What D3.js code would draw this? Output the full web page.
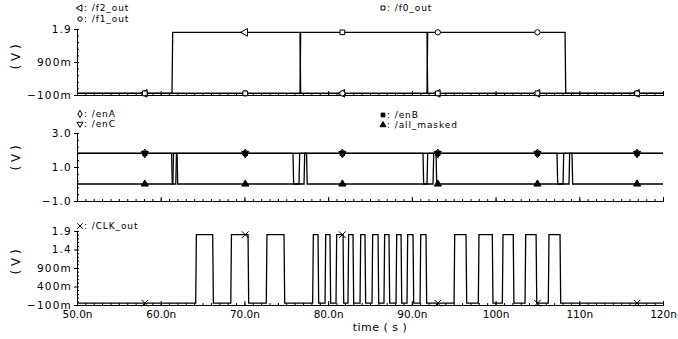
<!DOCTYPE html>
<html>
<head>
<meta charset="utf-8">
<script src="https://cdn.jsdelivr.net/npm/d3@7"></script>
<style>
  body { margin: 0; background: #fff; }
  svg { display: block; }
  text { font-family: 'DejaVu Sans', sans-serif; fill: #000; }
</style>
</head>
<body>
<div id="chart"></div>
<script>
// time axis (ns)
const timeRange = [50, 120];
const timeTicks = [50, 60, 70, 80, 90, 100, 110, 120];
const timeTickLabels = ['50.0n', '60.0n', '70.0n', '80.0n', '90.0n', '100n', '110n', '120n'];
const markerTimes = [58.1, 70.1, 81.7, 93.1, 105.0, 116.9];

// top panel: intervals where each output is high
const f2High = [[61.35, 76.64]];
const f0High = [[76.64, 91.81]];
const f1High = [[91.81, 108.3]];
const fLevels = [-0.05, 1.8];
const fTicks = [-0.1, 0.9, 1.9];
const fTickLabels = ['\u2212100m', '900m', '1.9'];

// middle panel: enables sit high and dip briefly, all_masked sits low and pulses
const enALow = [[75.8, 76.52]];
const enBLow = [[91.33, 91.81]];
const enCLow = [[61.3, 61.8], [107.34, 108.06]];
const allMaskedHigh = [[61.45, 61.95], [77.12, 77.42], [92.53, 92.89], [108.77, 109.13]];
const enLevels = [0, 1.8];
const enTicks = [-1, 1, 3];
const enTickLabels = ['\u22121.0', '1.0', '3.0'];

// bottom panel: clock pulses
const clkHigh = [
  [64.18, 66.21], [68.37, 70.43], [72.61, 74.73],
  [78.15, 78.79], [79.63, 80.22], [80.94, 81.78], [82.37, 82.97], [83.81, 84.4],
  [85.24, 85.96], [86.67, 87.27], [88.11, 88.71], [89.42, 90.14], [90.98, 91.69],
  [95.04, 96.47], [97.94, 99.61], [100.81, 102.11], [103.52, 104.84], [106.3, 107.7]
];
const clkLevels = [-0.05, 1.8];
const clkTicks = [-0.1, 0.4, 0.9, 1.4, 1.9];
const clkTickLabels = ['\u2212100m', '400m', '900m', '1.4', '1.9'];

const W = 678, H = 339;
const edge = 0.08; // transition time, ns

const svg = d3.select('#chart').append('svg').attr('width', W).attr('height', H);

const x = d3.scaleLinear().domain(timeRange).range([77, 663]);

const inside = (intervals, t) => intervals.some(([a, b]) => t >= a && t <= b + edge);

// build step waveform: base level, switched to `level` inside intervals
const wave = (intervals, base, level) => {
  const pts = [[timeRange[0], base]];
  intervals.forEach(([a, b]) => {
    pts.push([a, base], [a + edge, level], [b, level], [b + edge, base]);
  });
  pts.push([timeRange[1], base]);
  return pts;
};

const symbolPath = (type, size) => d3.symbol().type(type).size(size)();

const drawAxes = p => {
  const g = svg.append('g');
  // x minor + major ticks
  g.append('g')
    .attr('transform', `translate(0,${p.y.range()[0]})`)
    .call(d3.axisBottom(x).tickValues(d3.range(50, 121, 1)).tickSize(-2).tickSizeOuter(0).tickFormat(''));
  const xMajor = g.append('g')
    .attr('transform', `translate(0,${p.y.range()[0]})`)
    .call(d3.axisBottom(x).tickValues(timeTicks).tickSize(-4).tickSizeOuter(0)
      .tickFormat((d, i) => (p.showTime ? timeTickLabels[i] : '')));
  xMajor.selectAll('.tick line').attr('y2', -4).attr('y1', 1);
  xMajor.selectAll('text').attr('y', 6).attr('dy', '0.71em')
    .style('font-family', "'DejaVu Sans', sans-serif").style('font-size', '10.5px');

  // y minor + major ticks
  g.append('g')
    .attr('transform', 'translate(77,0)')
    .call(d3.axisLeft(p.y).tickValues(d3.range(p.domain[0], p.domain[1] + 1e-6, p.minor)).tickSize(-2).tickSizeOuter(0).tickFormat(''));
  const yMajor = g.append('g')
    .attr('transform', 'translate(77,0)')
    .call(d3.axisLeft(p.y).tickValues(p.ticks).tickSize(3).tickSizeOuter(0).tickPadding(2)
      .tickFormat((d, i) => p.labels[i]));
  yMajor.selectAll('text')
    .style('font-family', "'DejaVu Sans', sans-serif").style('font-size', '10.5px')
    .style('letter-spacing', '1.2px');

  g.selectAll('.domain, .tick line').attr('stroke', '#000').attr('stroke-width', 1);

  svg.append('text')
    .attr('transform', `translate(16,${p.labelY}) rotate(-90)`)
    .attr('text-anchor', 'middle')
    .attr('dy', '0.35em')
    .style('font-size', '12px')
    .text('( V )');
};

const drawSignal = (p, s) => {
  const pts = wave(s.intervals, s.base, s.level);
  svg.append('path')
    .attr('d', d3.line().x(d => x(d[0])).y(d => p.y(d[1]))(pts))
    .attr('fill', 'none')
    .attr('stroke', '#000')
    .attr('stroke-width', 1.3);
};

const drawMarkers = (p, s) => {
  svg.append('g')
    .selectAll('path')
    .data(markerTimes)
    .join('path')
    .attr('d', symbolPath(s.type, s.size))
    .attr('transform', t => `translate(${x(t)},${p.y(inside(s.intervals, t) ? s.level : s.base)}) rotate(${s.rotate || 0})`)
    .attr('fill', s.fill ? '#000' : '#fff')
    .attr('stroke', '#000')
    .attr('stroke-width', 1);
};

const drawLegend = items => {
  items.forEach(d => {
    svg.append('path')
      .attr('d', symbolPath(d.type, d.size * 0.7))
      .attr('transform', `translate(${d.x},${d.y}) rotate(${d.rotate || 0})`)
      .attr('fill', d.fill ? '#000' : '#fff')
      .attr('stroke', '#000')
      .attr('stroke-width', 1);
    svg.append('text')
      .attr('x', d.x + 4)
      .attr('y', d.y)
      .attr('dy', '0.35em')
      .style('font-size', '9px')
      .style('letter-spacing', '0.9px')
      .text(': ' + d.name);
  });
};

const panels = [
  {
    domain: [-0.1, 1.9], y: d3.scaleLinear().domain([-0.1, 1.9]).range([95, 29]),
    minor: 0.2, ticks: fTicks, labels: fTickLabels, labelY: 57, showTime: false,
    signals: [
      { name: '/f2_out', intervals: f2High, base: fLevels[0], level: fLevels[1], type: d3.symbolTriangle, rotate: -90, size: 26 },
      { name: '/f1_out', intervals: f1High, base: fLevels[0], level: fLevels[1], type: d3.symbolCircle, size: 22 },
      { name: '/f0_out', intervals: f0High, base: fLevels[0], level: fLevels[1], type: d3.symbolSquare, size: 22 }
    ],
    legend: [[80, 8], [80, 19], [383, 8]]
  },
  {
    domain: [-1, 3], y: d3.scaleLinear().domain([-1, 3]).range([201, 133]),
    minor: 0.4, ticks: enTicks, labels: enTickLabels, labelY: 158, showTime: false,
    signals: [
      { name: '/enA', intervals: enALow, base: enLevels[1], level: enLevels[0], type: d3.symbolDiamond, size: 22 },
      { name: '/enC', intervals: enCLow, base: enLevels[1], level: enLevels[0], type: d3.symbolTriangle, rotate: 180, size: 22 },
      { name: '/enB', intervals: enBLow, base: enLevels[1], level: enLevels[0], type: d3.symbolSquare, size: 20, fill: true },
      { name: '/all_masked', intervals: allMaskedHigh, base: enLevels[0], level: enLevels[1], type: d3.symbolTriangle, size: 22, fill: true }
    ],
    legend: [[80, 114], [80, 124], [383, 115], [383, 125]]
  },
  {
    domain: [-0.1, 1.9], y: d3.scaleLinear().domain([-0.1, 1.9]).range([305, 231]),
    minor: 0.1, ticks: clkTicks, labels: clkTickLabels, labelY: 262, showTime: true,
    signals: [
      { name: '/CLK_out', intervals: clkHigh, base: clkLevels[0], level: clkLevels[1], type: d3.symbolTimes, size: 30 }
    ],
    legend: [[80, 226]]
  }
];

panels.forEach(p => {
  drawAxes(p);
  p.signals.forEach(s => drawSignal(p, s));
  p.signals.forEach(s => drawMarkers(p, s));
  drawLegend(p.signals.map((s, i) => ({ ...s, x: p.legend[i][0], y: p.legend[i][1] })));
});

svg.append('text')
  .attr('x', 380)
  .attr('y', 331)
  .attr('text-anchor', 'middle')
  .style('font-size', '11px')
  .style('letter-spacing', '0.5px')
  .text('time ( s )');
</script>
</body>
</html>
